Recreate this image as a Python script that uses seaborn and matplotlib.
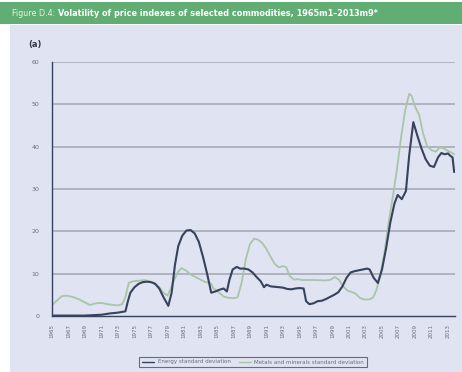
import matplotlib
matplotlib.use("Agg")
import matplotlib.pyplot as plt
import numpy as np
import pandas as pd
import seaborn as sns

# Energy price index volatility (standard deviation), by decimal year
energy_t = [1965.0, 1966, 1967, 1968, 1969, 1970, 1971, 1972, 1973, 1973.9, 1974.2, 1974.5,
            1975, 1975.5, 1976, 1976.5, 1977, 1977.5, 1978, 1978.5, 1979.1, 1979.5, 1979.9,
            1980.3, 1980.8, 1981.3, 1981.8, 1982.3, 1982.8, 1983.3, 1983.8, 1984.3, 1984.8,
            1985.3, 1985.8, 1986.2, 1986.5, 1986.9, 1987.4, 1987.8, 1988.3, 1988.8, 1989.3,
            1989.8, 1990.3, 1990.7, 1991.0, 1991.5, 1992, 1992.5, 1993, 1993.5, 1994, 1994.5,
            1995, 1995.5, 1995.8, 1996.2, 1996.7, 1997.2, 1997.7, 1998.2, 1998.7, 1999.2,
            1999.7, 2000.2, 2000.7, 2001.2, 2001.7, 2002.2, 2002.7, 2003.2, 2003.5, 2004.0,
            2004.5, 2005.0, 2005.5, 2006.0, 2006.5, 2006.9, 2007.4, 2007.9, 2008.3, 2008.8,
            2009.3, 2009.8, 2010.3, 2010.8, 2011.3, 2011.8, 2012.2, 2012.6, 2013.0, 2013.3,
            2013.55, 2013.75]
energy_v = [0.1, 0.1, 0.1, 0.1, 0.1, 0.2, 0.3, 0.6, 0.8, 1.1, 3.5, 5.5,
            6.8, 7.6, 8.0, 8.1, 8.0, 7.6, 6.5, 4.5, 2.4, 5.5, 12.0,
            16.5, 19.0, 20.2, 20.3, 19.5, 17.5, 14.0, 10.0, 5.5, 5.8,
            6.2, 6.5, 5.8, 8.5, 11.0, 11.6, 11.2, 11.2, 11.0, 10.3,
            9.2, 8.2, 6.8, 7.4, 7.0, 6.9, 6.8, 6.7, 6.4, 6.3, 6.5,
            6.6, 6.5, 3.5, 2.8, 3.0, 3.5, 3.6, 4.0, 4.5, 5.0,
            5.6, 7.0, 9.0, 10.3, 10.6, 10.8, 11.0, 11.2, 11.0, 9.0,
            7.8, 11.0, 16.0, 22.0, 26.5, 28.6, 27.6, 29.5, 38.0, 45.8,
            42.5, 39.5, 37.0, 35.5, 35.2, 37.5, 38.5, 38.2, 38.4, 37.8,
            37.5, 34.0]

# Metals and minerals price index volatility (standard deviation)
metals_t = [1965.0, 1965.5, 1966.2, 1966.8, 1967.5, 1968.2, 1969.0, 1969.6, 1970.3, 1971.0,
            1971.7, 1972.4, 1973.0, 1973.5, 1973.9, 1974.3, 1974.8, 1975.5, 1976.2, 1976.8,
            1977.4, 1978.0, 1978.5, 1979.0, 1979.4, 1979.8, 1980.3, 1980.7, 1981.2, 1981.8,
            1982.4, 1983.0, 1983.6, 1984.2, 1984.6, 1985.2, 1985.8, 1986.4, 1987.0, 1987.5,
            1988.0, 1988.5, 1989.0, 1989.5, 1990.0, 1990.5, 1991.0, 1991.5, 1992.0, 1992.5,
            1993.0, 1993.4, 1993.8, 1994.3, 1994.8, 1995.3, 1996.0, 1997.0, 1998.0, 1998.7,
            1999.3, 1999.8, 2000.3, 2000.8, 2001.3, 2001.8, 2002.3, 2002.8, 2003.4, 2003.9,
            2004.3, 2004.8, 2005.3, 2005.8, 2006.3, 2006.8, 2007.3, 2007.8, 2008.3, 2008.6,
            2009.0, 2009.5, 2010.0, 2010.5, 2011.0, 2011.5, 2012.0, 2012.5, 2013.0, 2013.4,
            2013.75]
metals_v = [2.6, 3.5, 4.7, 4.8, 4.5, 4.0, 3.2, 2.6, 3.0, 3.1,
            2.8, 2.6, 2.5, 2.8, 4.5, 7.8, 8.2, 8.3, 8.5, 8.2,
            7.8, 6.8, 5.5, 4.8, 6.5, 8.5, 10.5, 11.3, 10.8, 9.8,
            9.2, 8.6, 8.0, 7.8, 6.5, 5.6, 4.6, 4.3, 4.2, 4.4,
            8.0, 13.5, 17.0, 18.3, 18.0, 17.2, 15.8, 14.0, 12.3, 11.5,
            11.8, 11.5, 9.5, 8.6, 8.7, 8.5, 8.5, 8.5, 8.4, 8.5,
            9.2, 8.5, 7.0, 6.0, 5.7, 5.3, 4.3, 3.9, 3.9, 4.3,
            6.0, 9.5, 15.0, 22.0, 28.0, 34.5, 42.0, 48.5, 52.5, 52.0,
            49.5, 47.5, 43.0, 40.0, 39.2, 38.8, 39.8, 39.6, 39.0, 38.6,
            38.2]

series_names = ["Energy standard deviation", "Metals and minerals standard deviation"]
y_ticks = [0, 10, 20, 30, 40, 50, 60]
year_ticks = list(range(1965, 2014))
year_labels = [str(y) if (y - 1965) % 2 == 0 else "" for y in year_ticks]

df = pd.concat([
    pd.DataFrame({"year": energy_t, "value": energy_v, "series": series_names[0]}),
    pd.DataFrame({"year": metals_t, "value": metals_v, "series": series_names[1]}),
], ignore_index=True)

panel_bg = "#e0e3f1"
green = "#62ad74"
dark = "#37425c"
light = "#a9c5a9"
grid_c = "#a7abb5"
text_c = "#6b6f78"

sns.set_theme(style="white")
plt.rcParams["font.family"] = ["DejaVu Sans"]

fig = plt.figure(figsize=(4.62, 3.72), dpi=100)
fig.patch.set_facecolor("white")

# panel background and title bar
fig.add_artist(plt.Rectangle((10 / 462, 0.0), 452 / 462, 1 - 25 / 372,
                             transform=fig.transFigure, facecolor=panel_bg,
                             edgecolor="none", zorder=0))
fig.add_artist(plt.Rectangle((0.0, 1 - 24 / 372), 1.0, 22 / 372,
                             transform=fig.transFigure, facecolor=green,
                             edgecolor="none", zorder=0))
t1 = fig.text(12 / 462, 1 - 13 / 372, "Figure D.4:", color="#e4f1e7", fontsize=5.8,
              va="center", ha="left")
fig.canvas.draw()
bb = t1.get_window_extent(renderer=fig.canvas.get_renderer())
x2 = (bb.x1 + 3) / fig.bbox.width
fig.text(x2, 1 - 13 / 372,
         "Volatility of price indexes of selected commodities, 1965m1\u20132013m9*",
         color="white", fontsize=5.9, fontweight="bold", va="center", ha="left")
fig.text(28 / 462, 1 - 45 / 372, "(a)", color="#333844", fontsize=6,
         fontweight="bold", va="center", ha="left")

ax = fig.add_axes([52 / 462, 1 - 316 / 372, 403 / 462, 254 / 372])
ax.set_facecolor("none")

sns.lineplot(data=df, x="year", y="value", hue="series", hue_order=series_names,
             palette={series_names[0]: dark, series_names[1]: light},
             estimator=None, sort=True, ax=ax, linewidth=1.3, legend=False)
# energy line on top
for line in ax.get_lines():
    if line.get_color() == dark:
        line.set_zorder(4)
        line.set_linewidth(1.5)
    else:
        line.set_zorder(3)

ax.set_xlim(1965, 2013.85)
ax.set_ylim(0, 60)
ax.set_yticks(y_ticks)
ax.set_yticklabels([str(v) for v in y_ticks], fontsize=4.5, color=text_c)
ax.set_xticks(year_ticks)
ax.set_xticklabels(year_labels, rotation=90, fontsize=4, color=text_c)
ax.tick_params(axis="x", direction="out", length=3, width=0.8, color=dark, pad=3)
ax.tick_params(axis="y", direction="out", length=3, width=0.8, color=dark, pad=6)
ax.set_xlabel("")
ax.set_ylabel("")

for v in y_ticks[1:]:
    ax.axhline(v, color=grid_c, linewidth=1.2, zorder=1)

for side in ["top", "right"]:
    ax.spines[side].set_visible(False)
for side in ["left", "bottom"]:
    ax.spines[side].set_color(dark)
    ax.spines[side].set_linewidth(1.0)
    ax.spines[side].set_zorder(5)

handles = [plt.Line2D([], [], color=dark, linewidth=1.0),
           plt.Line2D([], [], color=light, linewidth=1.0)]
leg = fig.legend(handles, series_names, loc="center", ncol=2,
                 bbox_to_anchor=(253 / 462, 1 - 362 / 372), fontsize=4,
                 frameon=True, fancybox=False, handlelength=2.2,
                 columnspacing=1.5, borderpad=0.5, handletextpad=0.6)
leg.get_frame().set_edgecolor("#4a4f5c")
leg.get_frame().set_linewidth(0.8)
leg.get_frame().set_facecolor(panel_bg)
for t in leg.get_texts():
    t.set_color(text_c)

fig.savefig("out.png", dpi=100, facecolor=fig.get_facecolor())
